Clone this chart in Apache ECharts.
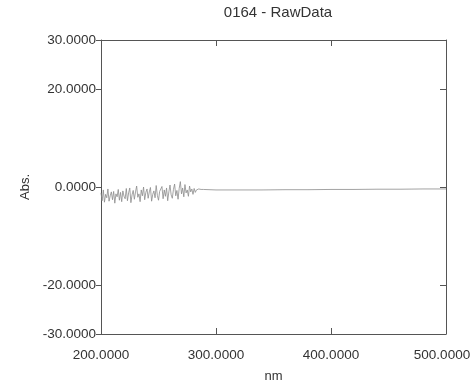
<!DOCTYPE html>
<html>
<head>
<meta charset="utf-8">
<script src="https://cdn.jsdelivr.net/npm/echarts@6/dist/echarts.min.js"></script>
<style>
  html, body { margin: 0; padding: 0; background: #ffffff; }
  #chart { width: 474px; height: 382px; }
</style>
</head>
<body>
<div id="chart"></div>
<script>
// Scan wavelengths (nm)
var wavelengths = [
  200,201,202,203,204,205,206,207,208,209,
  210,211,212,213,214,215,216,217,218,219,
  220,221,222,223,224,225,226,227,228,229,
  230,231,232,233,234,235,236,237,238,239,
  240,241,242,243,244,245,246,247,248,249,
  250,251,252,253,254,255,256,257,258,259,
  260,261,262,263,264,265,266,267,268,269,
  270,271,272,273,274,275,276,277,278,279,
  280,281,282,283,284,285,286,287,288,289,
  290,300,320,340,360,380,400,420,440,460,480,500
];
// Raw absorbance readings
var absorbance = [
  -1.2,-2.8,-0.6,-3.1,-1.5,-2.2,-0.4,-2.9,-1.8,-1.0,
  -2.6,-0.9,-3.3,-1.4,-2.0,-0.5,-2.7,-1.1,-3.0,-0.8,
  -1.9,-2.4,-0.3,-2.8,-1.2,-0.2,-3.2,-1.6,-0.7,-2.5,
  -1.0, 0.2,-2.1,-1.4,-3.0,-0.6,-1.8, 0.0,-2.6,-1.1,
  -0.4,-2.3,-1.0,-0.1,-2.9,-1.5,-0.8,-2.2, 0.3,-1.7,
  -2.7,-0.9,-1.3, 0.1,-2.4,-0.6,-1.9,-0.2,-2.8,-1.0,
   0.4,-1.6,-2.3,-0.5, 0.6,-1.8,-0.7,-2.5,-0.3, 1.1,
  -1.4,-0.2,-2.0, 0.5,-1.2,-0.6,-1.9, 0.2,-1.0,-0.4,
  -1.5,-0.3,-1.1,-0.6,-0.9,-0.4,-0.7,-0.5,-0.6,-0.5,
  -0.6,-0.6,-0.6,-0.6,-0.55,-0.55,-0.5,-0.5,-0.45,-0.45,-0.4,-0.4
];
var yTickValues = [-30, -20, 0, 20, 30];
var yRightTicks = [-20, 0, 20];
var xLabelValues = [200, 300, 400, 500];
var xInnerTicks = [300, 400];

var points = wavelengths.map(function (w, i) { return [w, absorbance[i]]; });

var axisColor = '#555555';
var textColor = '#333333';
var fontFamily = '"Liberation Sans", Arial, sans-serif';

function frameAxisLine() {
  return { show: true, onZero: false, lineStyle: { color: axisColor, width: 1 } };
}

function fourPlaces(v) { return Number(v).toFixed(4); }

var chart = echarts.init(document.getElementById('chart'));
chart.setOption({
  backgroundColor: '#ffffff',
  animation: false,
  title: {
    text: '0164 - RawData',
    left: 273, textAlign: 'center', top: 0,
    textStyle: { fontSize: 15, fontWeight: 'normal', color: textColor, fontFamily: fontFamily }
  },
  grid: { left: 101, right: 28, top: 40, bottom: 48, containLabel: false, outerBoundsMode: 'none' },
  xAxis: [{
    type: 'value', position: 'bottom', min: 200, max: 500, interval: 100,
    name: 'nm', nameLocation: 'middle', nameGap: 36,
    nameTextStyle: { fontSize: 13, color: textColor, fontFamily: fontFamily },
    axisLine: frameAxisLine(),
    axisTick: { show: true, inside: true, length: 6, customValues: xInnerTicks, lineStyle: { color: axisColor } },
    axisLabel: {
      customValues: xLabelValues, margin: 14, fontSize: 13.5, color: textColor, fontFamily: fontFamily,
      formatter: function (v) {
        // keep the last label inside the page edge
        return v === 500 ? '{edge|' + fourPlaces(v) + '}' : fourPlaces(v);
      },
      rich: { edge: { fontSize: 13.5, color: textColor, fontFamily: fontFamily, padding: [0, 8, 0, 0] } }
    },
    splitLine: { show: false }
  }, {
    type: 'value', position: 'top', min: 200, max: 500, interval: 100,
    axisLine: frameAxisLine(),
    axisTick: { show: true, inside: true, length: 6, customValues: xInnerTicks, lineStyle: { color: axisColor } },
    axisLabel: { show: false },
    splitLine: { show: false }
  }],
  yAxis: [{
    type: 'value', position: 'left', min: -30, max: 30, interval: 10,
    name: 'Abs.', nameLocation: 'middle', nameGap: 60, nameRotate: 90,
    nameTextStyle: { fontSize: 13, color: textColor, fontFamily: fontFamily },
    axisLine: frameAxisLine(),
    axisTick: { show: true, inside: false, length: 5, customValues: yTickValues, lineStyle: { color: axisColor } },
    axisLabel: {
      customValues: yTickValues, margin: 5, fontSize: 13.5, color: textColor, fontFamily: fontFamily,
      formatter: fourPlaces
    },
    splitLine: { show: false }
  }, {
    type: 'value', position: 'right', min: -30, max: 30, interval: 10,
    axisLine: frameAxisLine(),
    axisTick: { show: true, inside: true, length: 6, customValues: yRightTicks, lineStyle: { color: axisColor } },
    axisLabel: { show: false },
    splitLine: { show: false }
  }],
  series: [{
    type: 'line',
    xAxisIndex: 0, yAxisIndex: 0,
    data: points,
    symbol: 'none',
    lineStyle: { color: '#8c8c8c', width: 0.8 }
  }]
});
</script>
</body>
</html>
